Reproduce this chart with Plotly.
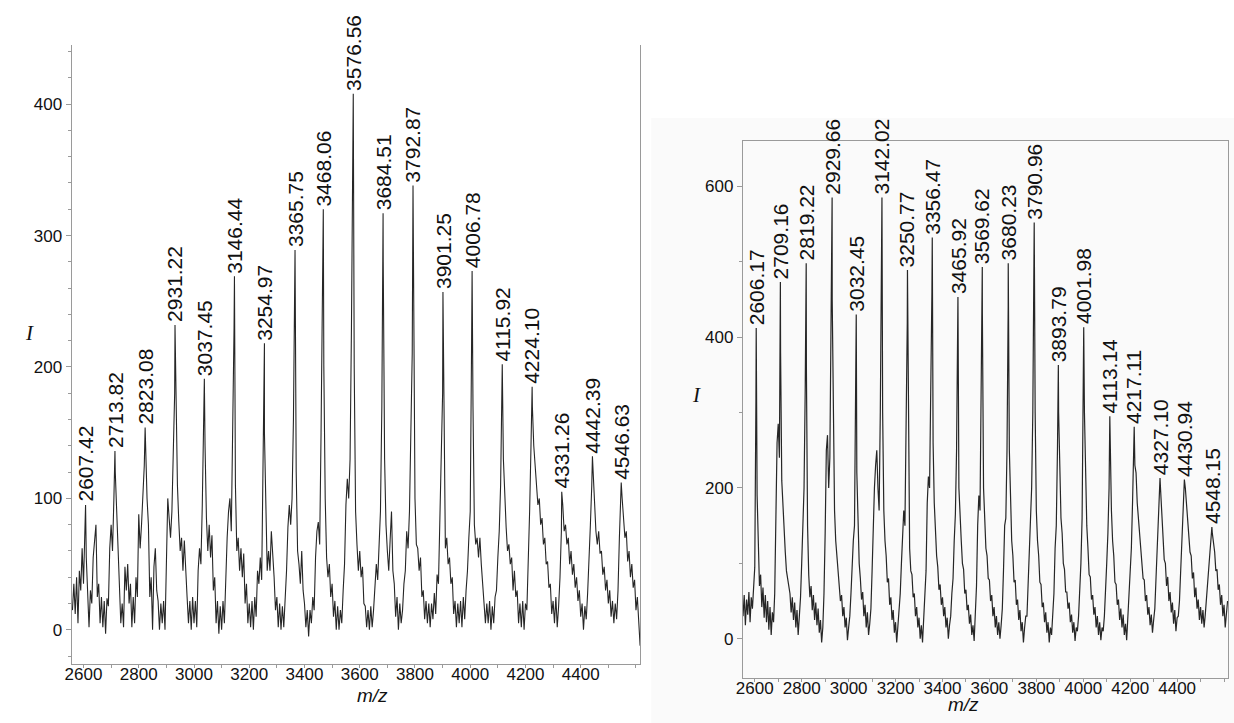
import plotly.graph_objects as go

# ---------------- Left spectrum ----------------
L_X0 = 2560
L_STEP = 5
L_INT = [
    15, 35, 12, 40, 5, 45, 30, 62, 35, 75, 55, 20, 2, 30, 20, 55, 72, 80, 25, 35,
    5, 25, 2, 22, -3, 24, 18, 62, 80, 60, 100, 120, 88, 55, 30, 5, 20, 2, 48, 30,
    50, 20, 35, 2, 25, 5, 40, 25, 88, 62, 80, 105, 125, 130, 100, 80, 25, 40, 0, 48,
    62, 30, 22, 0, 20, 5, 22, 0, 60, 100, 85, 70, 90, 150, 180, 160, 110, 82, 60, 70,
    45, 68, 40, 25, 5, 22, 0, 25, 5, 22, 2, 45, 62, 50, 95, 150, 140, 85, 60, 80,
    55, 72, 30, 40, 5, 22, -3, 18, 0, 22, 5, 45, 70, 90, 100, 75, 140, 230, 110, 60,
    70, 45, 62, 40, 58, 20, 35, 5, 20, 2, 22, 0, 25, 10, 45, 35, 55, 38, 130, 150,
    90, 45, 60, 45, 75, 60, 40, 15, 25, 2, 20, 0, 18, 2, 20, 45, 78, 95, 80, 100,
    160, 250, 120, 60, 50, 35, 60, 30, 20, 2, 15, -5, 15, 5, 25, 15, 55, 75, 82, 65,
    150, 230, 200, 100, 55, 40, 50, 25, 35, 10, 22, 0, 18, 0, 15, 5, 30, 50, 95, 115,
    100, 130, 230, 350, 200, 90, 65, 45, 60, 40, 48, 20, 18, 2, 15, 0, 18, 2, 15, 30,
    50, 38, 62, 90, 170, 280, 130, 80, 60, 45, 68, 90, 45, 35, 10, 25, 0, 20, 5, 15,
    35, 45, 75, 62, 90, 150, 210, 250, 100, 65, 62, 45, 55, 25, 30, 8, 22, 5, 20, 2,
    20, 8, 28, 12, 42, 35, 80, 120, 180, 150, 62, 70, 50, 55, 35, 40, 12, 22, 2, 20,
    5, 22, 2, 25, 8, 30, 45, 70, 90, 220, 170, 80, 65, 70, 55, 70, 50, 35, 20, 5,
    20, 5, 22, 0, 18, 5, 25, 30, 55, 75, 110, 170, 130, 95, 78, 60, 65, 50, 55, 30,
    45, 25, 30, 5, 20, 2, 22, 0, 20, 15, 48, 90, 140, 170, 140, 125, 110, 95, 100, 80,
    85, 65, 70, 50, 52, 32, 35, 12, 22, 5, 25, 2, 18, 40, 75, 95, 75, 80, 65, 70,
    50, 60, 42, 50, 32, 40, 22, 30, 10, 20, 0, 18, 8, 28, 50, 80, 110, 120, 90, 75,
    65, 75, 58, 60, 42, 48, 30, 38, 20, 30, 10, 22, 5, 20, 8, 30, 70, 100, 100, 85,
    70, 75, 52, 60, 40, 50, 32, 38, 15, 25, 5, -12,
]
L_PEAK_MZ = [2607.42, 2713.82, 2823.08, 2931.22, 3037.45, 3146.44, 3254.97, 3365.75,
             3468.06, 3576.56, 3684.51, 3792.87, 3901.25, 4006.78, 4115.92, 4224.10,
             4331.26, 4442.39, 4546.63]
L_PEAK_I = [95, 136, 154, 232, 191, 269, 218, 289, 320, 408, 317, 338, 257, 273,
            202, 185, 105, 132, 112]
L_TICKS = [2600, 2800, 3000, 3200, 3400, 3600, 3800, 4000, 4200, 4400]

# ---------------- Right spectrum ----------------
R_X0 = 2550
R_STEP = 5
R_INT = [
    30, 58, 18, 52, 32, 62, 22, 55, 40, 75, 95, 320, 190, 125, 70, 85, 42, 68, 28, 58,
    22, 50, 12, 42, 5, 35, 22, 60, 150, 260, 285, 240, 380, 210, 170, 130, 115, 90, 80, 65,
    60, 35, 55, 25, 48, 15, 38, 5, 25, 55, 100, 140, 200, 330, 360, 150, 85, 55, 70, 38,
    58, 25, 48, 18, 40, 8, 25, -5, 15, 60, 140, 250, 270, 200, 240, 380, 450, 250, 170, 130,
    110, 85, 75, 50, 58, 30, 42, 15, 28, -2, 15, 30, 60, 100, 130, 150, 300, 220, 140, 100,
    80, 52, 62, 30, 45, 15, 35, 5, 20, 40, 90, 150, 200, 230, 250, 200, 170, 300, 480, 300,
    170, 130, 110, 75, 80, 45, 55, 25, 38, 8, 22, -5, 15, 40, 60, 100, 140, 170, 150, 260,
    420, 250, 120, 90, 85, 55, 60, 30, 42, 15, 28, 0, 18, -5, 22, 50, 90, 180, 215, 200,
    300, 460, 260, 180, 140, 110, 95, 65, 72, 45, 55, 30, 42, 15, 28, 0, 18, 30, 60, 80,
    130, 165, 250, 400, 200, 150, 130, 100, 92, 60, 65, 38, 45, 20, 32, 5, 18, -3, 30, 70,
    150, 190, 170, 300, 430, 200, 150, 120, 110, 80, 78, 50, 58, 30, 42, 15, 30, 5, 22, 0,
    18, 40, 90, 150, 160, 250, 440, 250, 170, 130, 110, 75, 78, 45, 52, 25, 38, 10, 22, -5,
    15, 30, 30, 80, 130, 180, 200, 300, 480, 300, 170, 130, 110, 75, 72, 42, 48, 22, 35, 8,
    22, -5, 15, 5, 28, 60, 120, 150, 250, 300, 200, 160, 140, 100, 92, 62, 62, 40, 48, 22,
    32, 8, 22, -3, 15, 10, 30, 60, 100, 160, 340, 300, 200, 150, 120, 85, 82, 52, 58, 32,
    42, 15, 30, 5, 22, -2, 15, 10, 30, 60, 100, 140, 200, 250, 170, 130, 110, 75, 72, 45,
    52, 25, 40, 15, 32, 5, 20, -2, 25, 50, 80, 120, 180, 240, 230, 220, 180, 160, 140, 110,
    100, 80, 78, 50, 58, 32, 42, 18, 32, 8, 25, 40, 80, 120, 160, 190, 195, 160, 130, 105,
    100, 70, 82, 50, 62, 35, 48, 20, 38, 10, 28, 30, 50, 90, 130, 180, 200, 200, 180, 160,
    140, 115, 110, 80, 88, 55, 68, 40, 52, 25, 42, 20, 38, 15, 32, 50, 70, 90, 115, 135,
    140, 125, 115, 90, 92, 65, 72, 45, 58, 30, 45, 15, 32, 50,
]
R_PEAK_MZ = [2606.17, 2709.16, 2819.22, 2929.66, 3032.45, 3142.02, 3250.77, 3356.47,
             3465.92, 3569.62, 3680.23, 3790.96, 3893.79, 4001.98, 4113.14, 4217.11,
             4327.10, 4430.94, 4548.15]
R_PEAK_I = [412, 473, 498, 585, 430, 585, 489, 532, 453, 493, 498, 552, 363, 413,
            295, 281, 213, 211, 148]
R_TICKS = [2600, 2800, 3000, 3200, 3400, 3600, 3800, 4000, 4200, 4400]

FONT = "Liberation Sans, Arial, sans-serif"
SERIF = "Liberation Serif, Times New Roman, serif"


def merged(x0, step, vals, pk_x, pk_y):
    xs = [x0 + step * i for i in range(len(vals))]
    pts = sorted(zip(xs + list(pk_x), list(vals) + list(pk_y)))
    return [p[0] for p in pts], [p[1] for p in pts]


lx, ly = merged(L_X0, L_STEP, L_INT, L_PEAK_MZ, L_PEAK_I)
rx, ry = merged(R_X0, R_STEP, R_INT, R_PEAK_MZ, R_PEAK_I)

fig = go.Figure()
fig.add_trace(go.Scatter(x=lx, y=ly, mode="lines", line=dict(color="#262626", width=1.1),
                         xaxis="x", yaxis="y", showlegend=False, hoverinfo="skip"))
fig.add_trace(go.Scatter(x=rx, y=ry, mode="lines", line=dict(color="#262626", width=1.2),
                         xaxis="x2", yaxis="y2", showlegend=False, hoverinfo="skip"))

W, H = 1234, 723
ldom_x = [65 / W, 637 / W]
ldom_y = [(H - 664) / H, (H - 45) / H]
rdom_x = [740 / W, 1228 / W]
rdom_y = [(H - 678) / H, (H - 141) / H]

GRAY = "#9a9a9a"
axis_common = dict(showgrid=False, zeroline=False, showline=True, linecolor=GRAY,
                   linewidth=1, ticks="outside", tickcolor=GRAY,
                   tickfont=dict(family=FONT, size=17, color="#111"))
minor_x = dict(dtick=100, tick0=2600, ticks="outside", ticklen=3, tickcolor=GRAY)

fig.update_layout(
    width=W, height=H, margin=dict(l=0, r=0, t=0, b=0),
    paper_bgcolor="white", plot_bgcolor="rgba(0,0,0,0)",
    xaxis=dict(domain=ldom_x, range=[2557, 4616], anchor="y", tickmode="array",
               tickvals=L_TICKS, minor=minor_x, ticklen=3, ticklabelstandoff=-8,
               **axis_common),
    yaxis=dict(domain=ldom_y, range=[-26, 445], anchor="x", dtick=100, tick0=0, mirror=True,
               ticklen=5, minor=dict(dtick=20, ticks="outside", ticklen=3, tickcolor=GRAY),
               **axis_common),
    xaxis2=dict(domain=rdom_x, range=[2549, 4617], anchor="y2", tickmode="array",
                tickvals=R_TICKS, mirror=True, minor=minor_x, ticklen=3,
                ticklabelstandoff=-8, **axis_common),
    yaxis2=dict(domain=rdom_y, range=[-52, 660], anchor="x2", dtick=200, tick0=0, mirror=True,
                ticklen=5, minor=dict(dtick=100, ticks="outside", ticklen=3, tickcolor=GRAY),
                **axis_common),
)

# light background behind right panel
fig.add_shape(type="rect", xref="paper", yref="paper", x0=648 / W, x1=1.0,
              y0=0, y1=(H - 118) / H, fillcolor="#fafafa", line=dict(width=0), layer="below")

ann = []
for mz, it in zip(L_PEAK_MZ, L_PEAK_I):
    ann.append(dict(x=mz, y=it, xref="x", yref="y", text=f"{mz:.2f}", textangle=-90,
                    showarrow=False, xanchor="center", yanchor="bottom", yshift=1,
                    font=dict(family=FONT, size=21, color="#111")))
for mz, it in zip(R_PEAK_MZ, R_PEAK_I):
    ann.append(dict(x=mz, y=it, xref="x2", yref="y2", text=f"{mz:.2f}", textangle=-90,
                    showarrow=False, xanchor="center", yanchor="bottom", yshift=1,
                    font=dict(family=FONT, size=21, color="#111")))

# axis titles
ann.append(dict(x=350 / W, y=(H - 708) / H, xref="paper", yref="paper", text="<i>m/z</i>",
                showarrow=False, font=dict(family=FONT, size=19, color="#111")))
ann.append(dict(x=980 / W, y=(H - 717) / H, xref="paper", yref="paper", text="<i>m/z</i>",
                showarrow=False, font=dict(family=FONT, size=19, color="#111")))
ann.append(dict(x=16 / W, y=(H - 333) / H, xref="paper", yref="paper", text="<i>I</i>",
                showarrow=False, font=dict(family=SERIF, size=21, color="#111")))
ann.append(dict(x=693 / W, y=(H - 395) / H, xref="paper", yref="paper", text="<i>I</i>",
                showarrow=False, font=dict(family=SERIF, size=21, color="#111")))
fig.update_layout(annotations=ann)

fig.write_html("out.html", config={"displayModeBar": False},
               post_script="document.body.style.margin='0';")
